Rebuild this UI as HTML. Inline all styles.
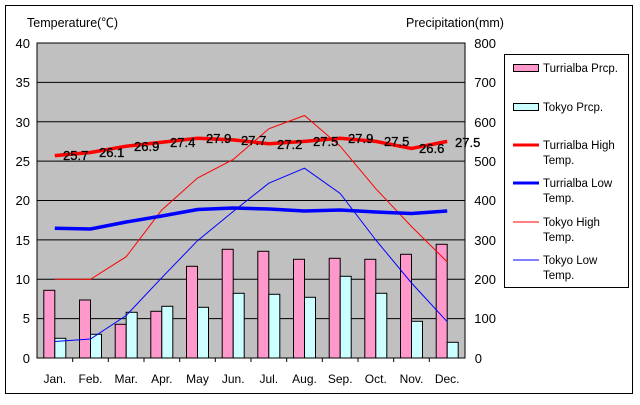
<!DOCTYPE html>
<html><head><meta charset="utf-8"><style>
html,body{margin:0;padding:0;background:#fff;}
svg text{font-family:"Liberation Sans","Noto Sans CJK JP",sans-serif;}
</style></head><body>
<svg width="640" height="400" viewBox="0 0 640 400" xmlns="http://www.w3.org/2000/svg">
<rect x="0" y="0" width="640" height="400" fill="#fff"/>
<rect x="5.5" y="5.5" width="627" height="388" fill="none" stroke="#000" stroke-width="1"/>
<rect x="37" y="43" width="428" height="315" fill="#c0c0c0" stroke="#000" stroke-width="1"/>
<g stroke="#000" stroke-width="1">
<line x1="37" y1="82.4" x2="465" y2="82.4"/>
<line x1="37" y1="121.8" x2="465" y2="121.8"/>
<line x1="37" y1="161.1" x2="465" y2="161.1"/>
<line x1="37" y1="200.5" x2="465" y2="200.5"/>
<line x1="37" y1="239.9" x2="465" y2="239.9"/>
<line x1="37" y1="279.3" x2="465" y2="279.3"/>
<line x1="37" y1="318.6" x2="465" y2="318.6"/>
</g>
<g stroke="#000" stroke-width="1">
<line x1="72.7" y1="358" x2="72.7" y2="362"/><line x1="108.3" y1="358" x2="108.3" y2="362"/>
<line x1="144" y1="358" x2="144" y2="362"/><line x1="179.7" y1="358" x2="179.7" y2="362"/>
<line x1="215.3" y1="358" x2="215.3" y2="362"/><line x1="251" y1="358" x2="251" y2="362"/>
<line x1="286.7" y1="358" x2="286.7" y2="362"/><line x1="322.3" y1="358" x2="322.3" y2="362"/>
<line x1="358" y1="358" x2="358" y2="362"/><line x1="393.7" y1="358" x2="393.7" y2="362"/>
<line x1="429.3" y1="358" x2="429.3" y2="362"/>
</g>
<!-- bars -->
<g stroke="#000" stroke-width="1" fill="#ff99cc">
<rect x="43.8" y="290.3" width="11" height="67.7"/>
<rect x="79.5" y="300" width="11" height="58"/>
<rect x="115.2" y="324.3" width="11" height="33.7"/>
<rect x="150.8" y="311.3" width="11" height="46.7"/>
<rect x="186.5" y="266.3" width="11" height="91.7"/>
<rect x="222.2" y="249.3" width="11" height="108.7"/>
<rect x="257.8" y="251.3" width="11" height="106.7"/>
<rect x="293.5" y="259.3" width="11" height="98.7"/>
<rect x="329.2" y="258.3" width="11" height="99.7"/>
<rect x="364.8" y="259.3" width="11" height="98.7"/>
<rect x="400.5" y="254.3" width="11" height="103.7"/>
<rect x="436.2" y="244.3" width="11" height="113.7"/>
</g>
<g stroke="#000" stroke-width="1" fill="#ccffff">
<rect x="54.8" y="338.3" width="11" height="19.7"/>
<rect x="90.5" y="334.3" width="11" height="23.7"/>
<rect x="126.2" y="312.3" width="11" height="45.7"/>
<rect x="161.8" y="306.3" width="11" height="51.7"/>
<rect x="197.5" y="307.3" width="11" height="50.7"/>
<rect x="233.2" y="293.3" width="11" height="64.7"/>
<rect x="268.8" y="294.3" width="11" height="63.7"/>
<rect x="304.5" y="297.3" width="11" height="60.7"/>
<rect x="340.2" y="276.3" width="11" height="81.7"/>
<rect x="375.8" y="293.3" width="11" height="64.7"/>
<rect x="411.5" y="321.3" width="11" height="36.7"/>
<rect x="447.2" y="342.3" width="11" height="15.7"/>
</g>
<!-- lines -->
<polyline fill="none" stroke="#ff0000" stroke-width="1" points="54.8,279.3 90.5,279.3 126.2,256.7 161.8,210 197.5,178 233.2,159.5 268.8,128.8 304.5,115.5 340.2,146.2 375.8,188.7 411.5,226.5 447.2,261.9"/>
<polyline fill="none" stroke="#0000ff" stroke-width="1" points="54.8,341.5 90.5,339 126.2,315.5 161.8,277.7 197.5,240.7 233.2,211.5 268.8,183.2 304.5,168.2 340.2,193.5 375.8,240 411.5,283 447.2,321.7"/>
<polyline fill="none" stroke="#0000ff" stroke-width="3.5" points="54.8,228.3 90.5,229 126.2,222 161.8,216 197.5,209.5 233.2,208 268.8,209 304.5,211 340.2,210 375.8,212 411.5,213.5 447.2,211"/>
<polyline fill="none" stroke="#ff0000" stroke-width="3.5" points="54.8,155.6 90.5,152.5 126.2,146.2 161.8,142.2 197.5,138.3 233.2,139.9 268.8,143.8 304.5,141.4 340.2,138.3 375.8,141.4 411.5,148.5 447.2,141.4"/>
<g font-size="13" fill="#000" stroke="#000" stroke-width="0.3">
<text x="63" y="160">25.7</text><text x="99" y="157">26.1</text><text x="134" y="151">26.9</text>
<text x="170" y="147">27.4</text><text x="206" y="143">27.9</text><text x="241" y="145">27.7</text>
<text x="277" y="149">27.2</text><text x="313" y="146">27.5</text><text x="348" y="143">27.9</text>
<text x="384" y="146">27.5</text><text x="419" y="153">26.6</text><text x="455" y="147">27.5</text>
</g>
<!-- axis labels -->
<g font-size="13" fill="#000" text-anchor="end">
<text x="30" y="48">40</text><text x="30" y="87">35</text><text x="30" y="127">30</text>
<text x="30" y="166">25</text><text x="30" y="205">20</text><text x="30" y="245">15</text>
<text x="30" y="284">10</text><text x="30" y="323">5</text><text x="30" y="363">0</text>
</g>
<g font-size="13" fill="#000" text-anchor="end">
<text x="496" y="48">800</text><text x="496" y="87">700</text><text x="496" y="127">600</text>
<text x="496" y="166">500</text><text x="496" y="205">400</text><text x="496" y="245">300</text>
<text x="496" y="284">200</text><text x="496" y="323">100</text><text x="482" y="363">0</text>
</g>
<g font-size="12" fill="#000" text-anchor="middle">
<text x="54.8" y="383">Jan.</text><text x="90.5" y="383">Feb.</text><text x="126.2" y="383">Mar.</text>
<text x="161.8" y="383">Apr.</text><text x="197.5" y="383">May</text><text x="233.2" y="383">Jun.</text>
<text x="268.8" y="383">Jul.</text><text x="304.5" y="383">Aug.</text><text x="340.2" y="383">Sep.</text>
<text x="375.8" y="383">Oct.</text><text x="411.5" y="383">Nov.</text><text x="447.2" y="383">Dec.</text>
</g>
<text x="27" y="27" font-size="12.5" fill="#000">Temperature(℃)</text>
<text x="406" y="27" font-size="12.5" fill="#000">Precipitation(mm)</text>
<!-- legend -->
<rect x="504.5" y="54.5" width="124" height="233" fill="#fff" stroke="#000" stroke-width="1"/>
<rect x="513.5" y="64.5" width="25" height="7" fill="#ff99cc" stroke="#000"/>
<rect x="513.5" y="103.5" width="25" height="7" fill="#ccffff" stroke="#000"/>
<line x1="513" y1="145" x2="539" y2="145" stroke="#ff0000" stroke-width="3"/>
<line x1="513" y1="183" x2="539" y2="183" stroke="#0000ff" stroke-width="3"/>
<line x1="513" y1="222" x2="539" y2="222" stroke="#ff0000" stroke-width="1"/>
<line x1="513" y1="260" x2="539" y2="260" stroke="#0000ff" stroke-width="1"/>
<g font-size="11.5" fill="#000">
<text x="543" y="72">Turrialba Prcp.</text>
<text x="543" y="111">Tokyo Prcp.</text>
<text x="543" y="149">Turrialba High</text><text x="543" y="164">Temp.</text>
<text x="543" y="187">Turrialba Low</text><text x="543" y="202">Temp.</text>
<text x="543" y="226">Tokyo High</text><text x="543" y="241">Temp.</text>
<text x="543" y="264">Tokyo Low</text><text x="543" y="279">Temp.</text>
</g>
</svg>
</body></html>
